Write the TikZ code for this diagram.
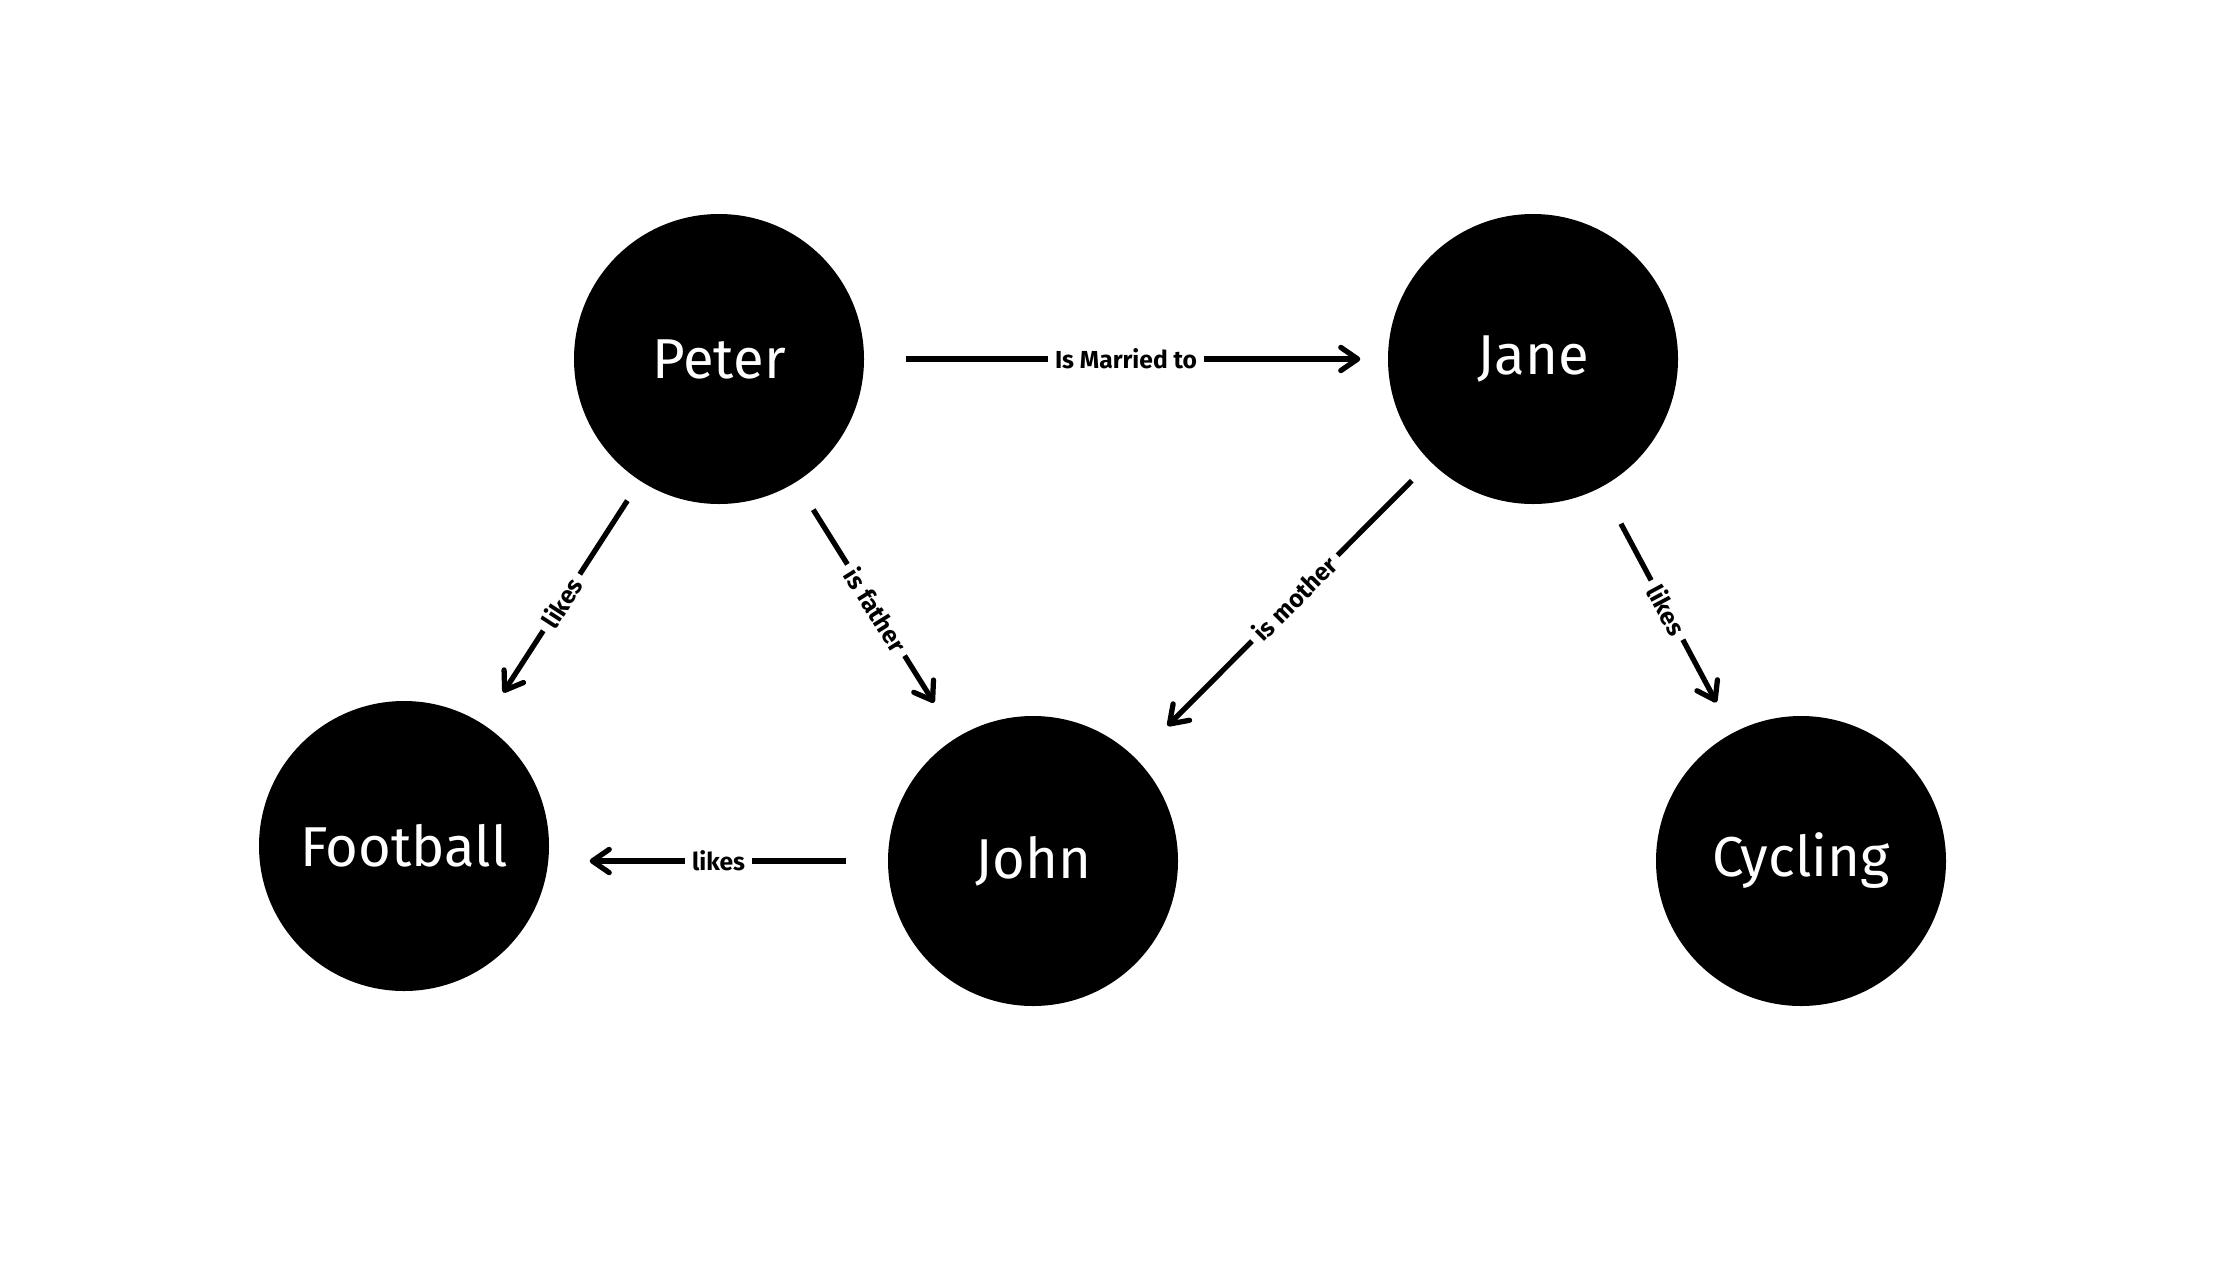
\documentclass[tikz,border=0pt]{standalone}
\usepackage{fontspec}
\setmainfont{Fira Sans}
\usetikzlibrary{arrows.meta}

\begin{document}
\begin{tikzpicture}[>={Straight Barb[length=4.8pt,width=6.6pt,line cap=round,line join=round]},
  person/.style={circle,fill=black,text=white,minimum size=2.9cm,inner sep=0pt,font=\fontsize{16}{18}\selectfont},
  rel/.style={->,line width=1.5pt},
  lbl/.style={midway,sloped,fill=white,inner sep=2pt,font=\fontsize{7}{8}\selectfont\bfseries}]
 \useasboundingbox (0,0) rectangle (22.4,12.6);
 \node[person] (peter)    at (7.19,9.01)  {Peter};
 \node[person] (jane)     at (15.33,9.01) {Jane};
 \node[person] (football) at (4.04,4.14)  {Football};
 \node[person] (john)     at (10.33,3.99) {John};
 \node[person] (cycling)  at (18.01,3.99) {Cycling};
 \draw[rel,shorten <=0.41cm,shorten >=0.27cm] (peter) -- node[lbl] {Is Married to} (jane);
 \draw[rel,shorten <=0.23cm,shorten >=0.37cm] (peter) -- node[lbl] {likes} (football);
 \draw[rel,shorten <=0.32cm,shorten >=0.41cm] (peter) -- node[lbl] {is father} (john);
 \draw[rel,shorten <=0.26cm,shorten >=0.45cm] (jane) -- node[lbl,pos=0.46] {is mother} (john);
 \draw[rel,shorten <=0.41cm,shorten >=0.34cm] (jane) -- node[lbl] {likes} (cycling);
 \draw[rel,shorten <=0.41cm,shorten >=0.40cm] (john) -- node[lbl] {likes} (football.east |- john);
\end{tikzpicture}
\end{document}
